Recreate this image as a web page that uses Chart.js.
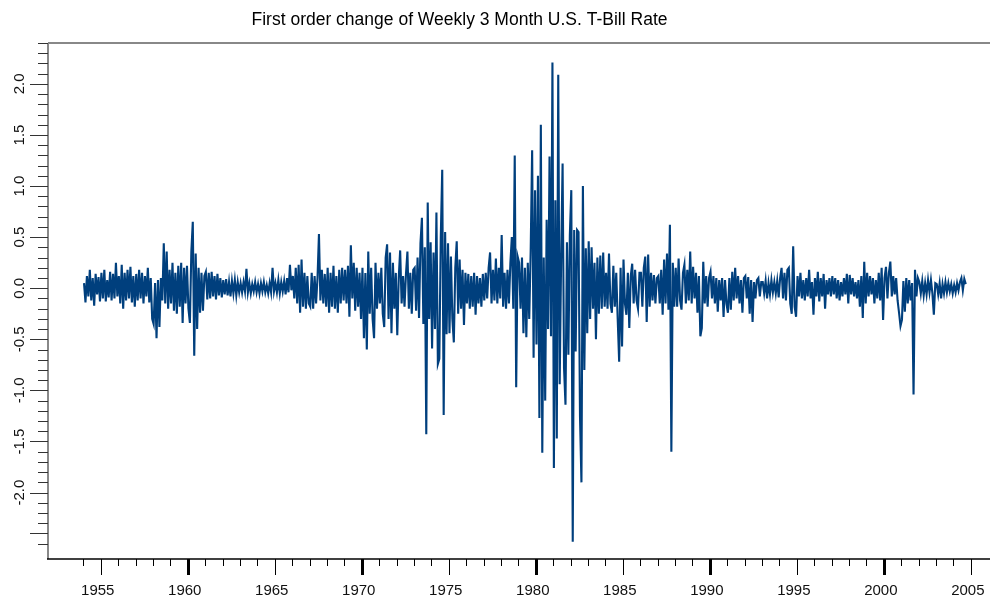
<!DOCTYPE html>
<html>
<head>
<meta charset="utf-8">
<script src="https://cdn.jsdelivr.net/npm/chart.js@4.4.1/dist/chart.umd.min.js"></script>
<style>
  html, body { margin: 0; padding: 0; background: #fff; overflow: hidden; }
  .chart-container { position: relative; width: 994px; height: 601px; }
</style>
</head>
<body>
<div class="chart-container">
  <canvas id="myChart" width="994" height="601"></canvas>
</div>
<script>
var startYear = 1954.04;
var stepYears = 1 / 12;
var rateChange = [
  0.05, -0.14, 0.12, -0.08, 0.18, -0.12, 0.10, -0.17, 0.14, -0.06, 0.11, -0.13, // 1954
  0.15, -0.10, 0.18, -0.13, 0.08, -0.09, 0.16, -0.12, 0.14, -0.10, 0.25, -0.08,
  0.12, -0.15, 0.23, -0.20, 0.15, -0.12, 0.18, -0.10, 0.21, -0.14, 0.12, -0.18,
  0.14, -0.12, 0.18, -0.10, 0.15, -0.15, 0.12, -0.08, 0.20, -0.14, 0.10, -0.30,
  -0.35, 0.05, -0.49, 0.08, -0.38, 0.10, -0.12, 0.44, -0.15, 0.36, -0.20, 0.18,
  -0.15, 0.25, -0.22, 0.15, -0.25, 0.22, -0.18, 0.25, -0.34, 0.20, -0.15, 0.22,
  -0.20, -0.34, 0.36, 0.65, -0.66, 0.34, -0.40, 0.20, -0.24, 0.15, -0.22, 0.12, // 1960
  0.16, -0.11, 0.15, -0.10, 0.16, -0.08, 0.12, -0.11, 0.14, -0.07, 0.10, -0.09,
  0.08, -0.06, 0.09, -0.07, 0.06, -0.08, 0.07, -0.05, 0.08, -0.07, 0.06, -0.04,
  0.05, -0.04, 0.06, -0.03, 0.19, -0.04, 0.05, -0.05, 0.04, -0.03, 0.06, -0.04,
  0.04, -0.05, 0.05, -0.03, 0.06, -0.04, 0.03, -0.05, 0.05, -0.04, 0.20, -0.03,
  0.05, -0.04, 0.08, -0.05, 0.06, -0.03, 0.07, -0.06, 0.10, -0.04, 0.23, -0.02,
  0.12, -0.10, 0.20, -0.15, 0.23, -0.24, 0.28, -0.18, 0.15, -0.20, 0.12, -0.15,
  -0.18, 0.15, -0.20, 0.12, -0.15, 0.10, 0.53, -0.12, 0.18, -0.15, 0.14, -0.18,
  0.20, -0.24, 0.15, -0.18, 0.22, -0.20, 0.12, -0.24, 0.18, -0.15, 0.20, -0.12,
  0.18, -0.15, 0.22, -0.28, 0.42, -0.10, 0.25, -0.22, 0.20, -0.18, 0.15, -0.30,
  0.20, -0.49, 0.15, -0.60, 0.36, -0.25, 0.20, -0.30, -0.49, 0.25, -0.20, 0.15, // 1970
  -0.15, 0.20, -0.25, -0.38, 0.30, 0.43, -0.30, 0.35, -0.44, 0.25, -0.20, 0.15,
  -0.46, 0.10, 0.37, -0.15, 0.12, -0.18, 0.14, 0.36, -0.20, 0.15, -0.25, 0.18,
  0.20, -0.22, 0.30, -0.29, 0.44, 0.69, -0.35, 0.40, -1.43, 0.84, -0.30, 0.45,
  -0.59, 0.35, -0.40, 0.74, -0.74, -0.69, 0.50, 1.16, -1.24, 0.55, -0.45, 0.44,
  -0.44, 0.31, -0.30, -0.53, 0.20, 0.46, -0.25, 0.28, -0.20, 0.18, -0.36, 0.15,
  -0.15, 0.14, -0.20, 0.12, -0.18, 0.15, -0.26, 0.12, -0.15, 0.10, -0.18, 0.14,
  -0.12, 0.15, -0.10, 0.20, 0.35, -0.15, 0.18, -0.12, 0.29, -0.15, 0.20, -0.10,
  0.52, -0.18, 0.15, -0.20, 0.18, -0.15, 0.25, 0.50, -0.20, 1.30, -0.97, 0.31,
  0.25, -0.20, 0.30, -0.44, 0.20, -0.48, 0.25, -0.30, 0.37, 1.35, -0.68, 0.96,
  -0.55, 1.10, -1.27, 1.60, -1.61, 0.30, -1.10, 0.67, -0.40, 1.29, -0.47, 2.21, // 1980
  -1.76, 0.86, -1.47, 2.09, -0.94, 0.30, 1.22, -0.78, -1.14, 0.45, -0.65, 0.52,
  0.96, -2.48, 0.57, -0.62, 0.57, 0.55, -1.25, -1.90, 1.00, -0.80, 0.39, -0.44,
  0.46, -0.30, 0.40, -0.20, 0.25, -0.50, 0.30, -0.25, 0.32, -0.20, 0.35, -0.18,
  0.15, -0.20, 0.34, -0.15, -0.24, 0.22, -0.18, 0.15, -0.30, -0.72, 0.20, -0.57,
  0.28, -0.15, -0.26, 0.15, -0.39, 0.12, 0.24, -0.15, 0.18, -0.12, -0.20, 0.15,
  0.15, -0.18, 0.20, 0.31, -0.33, 0.33, -0.18, 0.15, -0.12, 0.13, -0.15, 0.10,
  0.12, -0.15, 0.18, -0.26, 0.28, -0.15, 0.34, -0.21, 0.62, -1.60, 0.25, -0.18,
  0.20, -0.18, 0.29, -0.12, -0.21, 0.15, 0.23, -0.15, 0.18, -0.12, 0.36, -0.15,
  0.21, -0.10, 0.15, -0.24, 0.12, -0.47, -0.39, 0.26, -0.15, 0.12, -0.18, 0.10,
  0.16, -0.10, 0.12, -0.15, 0.10, -0.23, 0.08, -0.12, 0.10, -0.28, 0.08, -0.15, // 1990
  -0.24, 0.10, -0.21, 0.16, -0.12, 0.20, -0.10, 0.12, -0.15, 0.08, -0.24, 0.10,
  0.12, -0.10, 0.11, -0.25, 0.08, -0.33, 0.06, -0.10, 0.08, 0.10, -0.08, 0.06,
  0.06, -0.05, 0.07, -0.10, 0.05, -0.06, 0.08, -0.04, 0.06, -0.05, 0.07, -0.09,
  0.10, 0.20, -0.10, 0.15, -0.12, 0.18, 0.20, -0.15, -0.25, 0.41, -0.18, -0.28,
  0.12, -0.08, 0.15, -0.10, 0.08, -0.12, 0.10, -0.08, 0.18, -0.10, 0.06, -0.26,
  0.10, -0.08, 0.16, -0.13, 0.10, -0.08, 0.14, -0.20, 0.08, -0.06, 0.10, -0.08,
  0.12, -0.06, 0.10, -0.10, 0.08, -0.12, 0.06, -0.08, 0.10, -0.06, 0.14, -0.15,
  0.13, -0.06, 0.10, -0.08, 0.06, -0.10, 0.08, -0.18, 0.12, -0.29, 0.26, -0.15,
  0.15, -0.08, 0.12, -0.06, 0.10, -0.15, 0.08, -0.10, 0.15, -0.12, 0.20, -0.31,
  0.10, 0.21, -0.10, 0.15, 0.26, -0.08, 0.12, -0.06, 0.10, -0.12, -0.24, -0.37, // 2000
  -0.31, 0.07, -0.23, 0.10, -0.15, 0.08, -0.12, 0.05, -1.04, 0.18, -0.08, 0.10,
  0.06, -0.05, 0.07, -0.07, 0.05, -0.06, 0.08, -0.04, 0.08, -0.05, -0.26, 0.05,
  0.04, -0.06, 0.05, -0.10, 0.04, -0.05, 0.06, -0.04, 0.05, -0.03, 0.04, -0.05,
  0.03, -0.04, 0.05, -0.02, 0.06, 0.10, -0.02, 0.09, 0.04
];

// axis ticks
var yearTicks = [1954, 1955, 1956, 1957, 1958, 1959, 1960, 1961, 1962, 1963, 1964,
  1965, 1966, 1967, 1968, 1969, 1970, 1971, 1972, 1973, 1974, 1975, 1976, 1977,
  1978, 1979, 1980, 1981, 1982, 1983, 1984, 1985, 1986, 1987, 1988, 1989, 1990,
  1991, 1992, 1993, 1994, 1995, 1996, 1997, 1998, 1999, 2000, 2001, 2002, 2003,
  2004, 2005];
var yearLabels = [1955, 1960, 1965, 1970, 1975, 1980, 1985, 1990, 1995, 2000, 2005];
var decadeTicks = [1960, 1970, 1980, 1990, 2000];
var yLabels = [-2.0, -1.5, -1.0, -0.5, 0.0, 0.5, 1.0, 1.5, 2.0];
var yLongTicks = [-2.4, -2.0, -1.5, -1.0, -0.5, 0.0, 0.5, 1.0, 1.5, 2.0];

var titleText = 'First order change of Weekly 3 Month U.S. T-Bill Rate';
var FONT = '"Liberation Sans", Arial, sans-serif';

var points = rateChange.map(function (v, i) {
  return { x: startYear + i * stepYears, y: v };
});

// axes, ticks and labels drawn by hand (S-Plus style)
var axesPlugin = {
  id: 'splusAxes',
  afterDraw: function (chart) {
    var ctx = chart.ctx;
    var a = chart.chartArea;
    var xs = chart.scales.x, ys = chart.scales.y;
    ctx.save();

    // frame: grey top + left, black bottom
    ctx.strokeStyle = '#888';
    ctx.lineWidth = 2;
    ctx.beginPath();
    ctx.moveTo(a.left, a.top); ctx.lineTo(a.right, a.top);
    ctx.moveTo(a.left, a.top); ctx.lineTo(a.left, a.bottom);
    ctx.stroke();
    ctx.strokeStyle = '#000';
    ctx.lineWidth = 1.5;
    ctx.beginPath();
    ctx.moveTo(a.left - 1, a.bottom); ctx.lineTo(a.right, a.bottom);
    ctx.stroke();

    // x ticks
    ctx.strokeStyle = '#000';
    yearTicks.forEach(function (yr) {
      var px = Math.round(xs.getPixelForValue(yr)) + 0.5;
      var isDecade = decadeTicks.indexOf(yr) >= 0;
      var isFive = yearLabels.indexOf(yr) >= 0;
      ctx.lineWidth = isDecade ? 3 : 1;
      ctx.beginPath();
      ctx.moveTo(px, a.bottom);
      ctx.lineTo(px, a.bottom + (isFive ? 16 : 7));
      ctx.stroke();
    });
    ctx.fillStyle = '#111';
    ctx.font = '15px ' + FONT;
    ctx.textAlign = 'center';
    ctx.textBaseline = 'alphabetic';
    yearLabels.forEach(function (yr) {
      ctx.fillText(String(yr), xs.getPixelForValue(yr) - 3, 595);
    });

    // y ticks every 0.1
    ctx.strokeStyle = '#333';
    ctx.lineWidth = 1;
    for (var k = -25; k <= 24; k++) {
      var v = k / 10;
      var py = Math.round(ys.getPixelForValue(v)) + 0.5;
      var isLong = yLongTicks.some(function (t) { return Math.abs(t - v) < 1e-6; });
      ctx.beginPath();
      ctx.moveTo(a.left - (isLong ? 18 : 10), py);
      ctx.lineTo(a.left, py);
      ctx.stroke();
    }
    ctx.textBaseline = 'middle';
    yLabels.forEach(function (v) {
      var py = ys.getPixelForValue(v);
      ctx.save();
      ctx.translate(20, py);
      ctx.rotate(-Math.PI / 2);
      ctx.fillText(v.toFixed(1), 0, 0);
      ctx.restore();
    });

    // title
    ctx.textBaseline = 'alphabetic';
    ctx.font = '17.5px ' + FONT;
    ctx.fillStyle = '#000';
    ctx.fillText(titleText, 459.5, 25);
    ctx.restore();
  }
};

var ctx = document.getElementById('myChart').getContext('2d');
var chart = new Chart(ctx, {
  type: 'line',
  data: {
    datasets: [{
      data: points,
      borderColor: '#003f7d',
      borderWidth: 2.1,
      pointRadius: 0,
      tension: 0,
      fill: false
    }]
  },
  options: {
    responsive: false,
    animation: false,
    layout: { padding: { left: 48, right: 4, top: 43, bottom: 42 } },
    plugins: {
      legend: { display: false },
      title: { display: false },
      tooltip: { enabled: false }
    },
    scales: {
      x: { type: 'linear', min: 1951.97, max: 2006.1, display: false },
      y: { type: 'linear', min: -2.65, max: 2.4, display: false }
    }
  },
  plugins: [axesPlugin]
});
</script>
</body>
</html>
